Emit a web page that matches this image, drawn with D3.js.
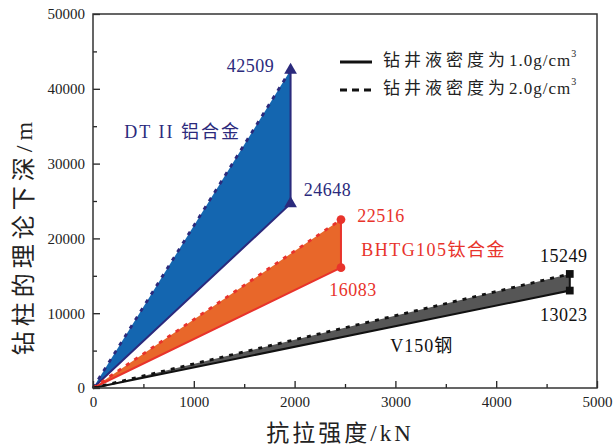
<!DOCTYPE html>
<html>
<head>
<meta charset="utf-8">
<script src="https://cdn.jsdelivr.net/npm/d3@7"></script>
<style>
  body { margin: 0; background: #fff; }
  text { font-family: "Liberation Serif", "Noto Sans CJK SC", serif; }
</style>
</head>
<body>
<div class="canvas"></div>
<script>
// materials, max tensile load (kN), depth for 1.0 and 2.0 g/cm3 mud (m)
const materials = ['DT II 铝合金', 'BHTG105钛合金', 'V150钢'];
const strength = [1960, 2460, 4730];
const depthLow = [24648, 16083, 13023];
const depthHigh = [42509, 22516, 15249];
const xTicks = [0, 1000, 2000, 3000, 4000, 5000];
const yTicks = [0, 10000, 20000, 30000, 40000, 50000];

const styles = [
  { fill: '#1466b0', line: '#2b2a7c', mark: d3.symbolTriangle, size: 70 },
  { fill: '#e8672a', line: '#e8332b', mark: d3.symbolCircle, size: 60 },
  { fill: '#565656', line: '#111', mark: d3.symbolSquare, size: 60 }
];

const dims = { width: 616, height: 447 };
const m = { left: 93, right: 19, top: 14, bottom: 59 };

const svg = d3.select('.canvas')
  .append('svg')
  .attr('width', dims.width)
  .attr('height', dims.height);

const x = d3.scaleLinear().domain([0, 5000]).range([m.left, dims.width - m.right]);
const y = d3.scaleLinear().domain([0, 50000]).range([dims.height - m.bottom, m.top]);

// filled bands between the two mud densities
const data = materials.map((name, i) => ({
  name, s: strength[i], lo: depthLow[i], hi: depthHigh[i], st: styles[i]
}));

const line = d3.line().x(d => x(d[0])).y(d => y(d[1]));

data.forEach(d => {
  svg.append('path')
    .attr('d', line([[0, 0], [d.s, d.hi], [d.s, d.lo]]) + 'Z')
    .attr('fill', d.st.fill);
  // solid = 1.0 g/cm3
  svg.append('path')
    .attr('d', line([[0, 0], [d.s, d.lo], [d.s, d.hi]]))
    .attr('fill', 'none')
    .attr('stroke', d.st.line)
    .attr('stroke-width', 2);
  // dashed = 2.0 g/cm3
  svg.append('path')
    .attr('d', line([[0, 0], [d.s, d.hi]]))
    .attr('fill', 'none')
    .attr('stroke', d.st.line)
    .attr('stroke-width', 2.8)
    .attr('stroke-dasharray', '4,6');
  svg.selectAll(null)
    .data([d.lo, d.hi])
    .enter()
    .append('path')
      .attr('d', d3.symbol().type(d.st.mark).size(d.st.size))
      .attr('transform', v => `translate(${x(d.s)},${y(v)})`)
      .attr('fill', d.st.line);
});

// axes with inward ticks
svg.append('g')
  .attr('transform', `translate(0,${y(0)})`)
  .call(d3.axisBottom(x).tickValues(xTicks).tickSize(-7).tickPadding(8).tickFormat(d3.format('d')));
svg.append('g')
  .attr('transform', `translate(0,${y(0)})`)
  .call(d3.axisBottom(x).tickValues(d3.range(500, 5000, 1000)).tickSize(-4).tickFormat(''));
svg.append('g')
  .attr('transform', `translate(${x(0)},0)`)
  .call(d3.axisLeft(y).tickValues(yTicks).tickSize(-7).tickPadding(8).tickFormat(d3.format('d')));
svg.append('g')
  .attr('transform', `translate(${x(0)},0)`)
  .call(d3.axisLeft(y).tickValues(d3.range(5000, 50000, 10000)).tickSize(-4).tickFormat(''));

svg.selectAll('.tick text').attr('font-size', 15).attr('fill', '#222');
svg.selectAll('.domain').remove();
svg.selectAll('.tick line').attr('stroke', '#222').attr('stroke-width', 1.3);

svg.append('rect')
  .attr('x', x(0)).attr('y', y(50000))
  .attr('width', x(5000) - x(0)).attr('height', y(0) - y(50000))
  .attr('fill', 'none').attr('stroke', '#333').attr('stroke-width', 1.5);

// axis titles
svg.append('text')
  .attr('x', 340).attr('y', 441)
  .attr('text-anchor', 'middle').attr('font-size', 23).attr('fill', '#222')
  .attr('letter-spacing', 3)
  .text('抗拉强度/kN');
svg.append('text')
  .attr('transform', 'translate(32,236) rotate(-90)')
  .attr('text-anchor', 'middle').attr('font-size', 24).attr('fill', '#222')
  .attr('letter-spacing', 5)
  .text('钻柱的理论下深/m');

// value and material labels
const labels = [
  { t: String(depthHigh[0]), px: strength[0], py: depthHigh[0], dx: -40, dy: -2, c: styles[0].line, a: 'middle' },
  { t: String(depthLow[0]), px: strength[0], py: depthLow[0], dx: 37, dy: -12, c: styles[0].line, a: 'middle' },
  { t: materials[0], px: 310, py: 34000, dx: 0, dy: 0, c: styles[0].line, a: 'start', ls: 2 },
  { t: String(depthHigh[1]), px: strength[1], py: depthHigh[1], dx: 40, dy: -2, c: styles[1].line, a: 'middle' },
  { t: materials[1], px: 2660, py: 18200, dx: 0, dy: 0, c: styles[1].line, a: 'start', ls: 1.5 },
  { t: String(depthLow[1]), px: strength[1], py: depthLow[1], dx: 12, dy: 24, c: styles[1].line, a: 'middle' },
  { t: String(depthHigh[2]), px: strength[2], py: depthHigh[2], dx: -6, dy: -16, c: '#111', a: 'middle' },
  { t: String(depthLow[2]), px: strength[2], py: depthLow[2], dx: -6, dy: 26, c: '#111', a: 'middle' },
  { t: materials[2], px: 2950, py: 5400, dx: 0, dy: 0, c: '#111', a: 'start', ls: 1 }
];
svg.selectAll('.lbl')
  .data(labels)
  .enter()
  .append('text')
    .attr('class', 'lbl')
    .attr('x', d => x(d.px) + d.dx)
    .attr('y', d => y(d.py) + d.dy)
    .attr('text-anchor', d => d.a)
    .attr('dominant-baseline', 'middle')
    .attr('font-size', 18)
    .attr('letter-spacing', d => d.ls || 0.5)
    .attr('fill', d => d.c)
    .text(d => d.t);

// legend
const legend = svg.append('g').attr('transform', 'translate(340,62)');
const legendItems = [
  { cn: '钻井液密度为', unit: '1.0g/cm', dash: null },
  { cn: '钻井液密度为', unit: '2.0g/cm', dash: '7,5' }
];
legendItems.forEach((d, i) => {
  legend.append('line')
    .attr('x1', 0).attr('x2', 32).attr('y1', i * 28).attr('y2', i * 28)
    .attr('stroke', '#111').attr('stroke-width', 3)
    .attr('stroke-dasharray', d.dash);
  const t = legend.append('text')
    .attr('x', 43).attr('y', i * 28)
    .attr('dominant-baseline', 'middle')
    .attr('font-size', 17).attr('fill', '#222');
  t.append('tspan').attr('letter-spacing', 4).text(d.cn);
  t.append('tspan').attr('letter-spacing', 1).text(d.unit);
  t.append('tspan').attr('font-size', 10).attr('dy', -7).text('3');
});
</script>
</body>
</html>
